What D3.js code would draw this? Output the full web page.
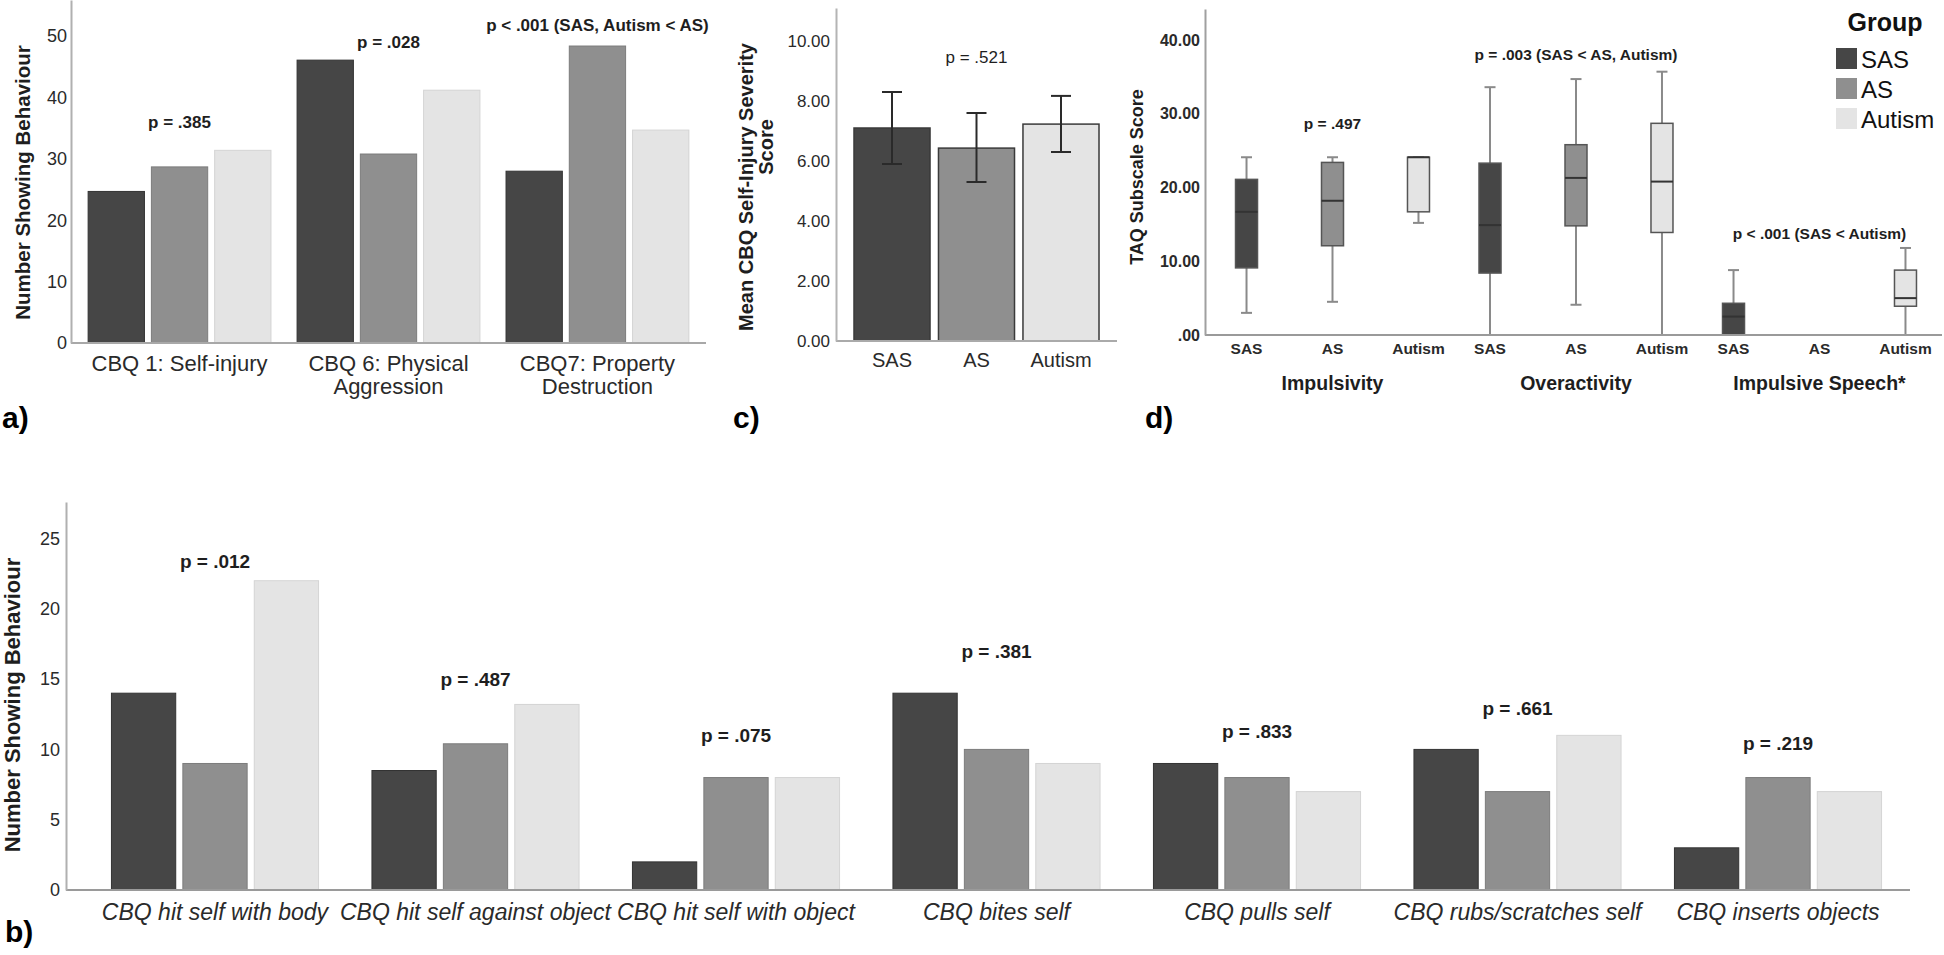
<!DOCTYPE html>
<html><head><meta charset="utf-8">
<script src="https://cdn.jsdelivr.net/npm/d3@7"></script>
<style>
html,body{margin:0;padding:0;background:#fff;}
svg{display:block;font-family:"Liberation Sans",Arial,Helvetica,sans-serif;}
</style>
</head><body>
<svg id="chart" width="1944" height="955"></svg>
<script>
// ---------------- DATA ----------------
const groups = ["SAS", "AS", "Autism"];

// Panel a) – CBQ categories
const catA = ["CBQ 1: Self-injury", "CBQ 6: Physical Aggression", "CBQ7: Property Destruction"];
const catALines = [["CBQ 1: Self-injury"], ["CBQ 6: Physical", "Aggression"], ["CBQ7: Property", "Destruction"]];
const aSAS = [24.7, 46.1, 28.0];
const aAS = [28.7, 30.8, 48.4];
const aAutism = [31.4, 41.2, 34.7];
const pTextA = ["p = .385", "p = .028", "p < .001 (SAS, Autism < AS)"];
const pLevelA = [36.0, 49.0, 51.8];
const ticksA = [0, 10, 20, 30, 40, 50];

// Panel b) – self-injury forms
const catB = ["CBQ hit self with body", "CBQ hit self against object", "CBQ hit self with object",
  "CBQ bites self", "CBQ pulls self", "CBQ rubs/scratches self", "CBQ inserts objects"];
const bSAS = [14, 8.5, 2, 14, 9, 10, 3];
const bAS = [9, 10.4, 8, 10, 8, 7, 8];
const bAutism = [22, 13.2, 8, 9, 7, 11, 7];
const pTextB = ["p = .012", "p = .487", "p = .075", "p = .381", "p = .833", "p = .661", "p = .219"];
const pLevelB = [23.4, 15.0, 11.0, 17.0, 11.25, 12.9, 10.4];
const ticksB = [0, 5, 10, 15, 20, 25];

// Panel c) – mean severity with error bars
const cMean = [7.1, 6.43, 7.23];
const cLow = [5.9, 5.3, 6.3];
const cHigh = [8.3, 7.6, 8.17];
const pTextC = "p = .521";
const pLevelC = 9.47;
const ticksC = [0, 2, 4, 6, 8, 10];

// Panel d) – TAQ boxplots [min, q1, median, q3, max]
const subscales = ["Impulsivity", "Overactivity", "Impulsive Speech*"];
const dSAS = [[3.0, 9.1, 16.7, 21.1, 24.1], [0, 8.4, 14.9, 23.3, 33.6], [0, 0, 2.5, 4.3, 8.8]];
const dAS = [[4.5, 12.1, 18.2, 23.4, 24.1], [4.1, 14.8, 21.3, 25.8, 34.7], null];
const dAutism = [[15.2, 16.7, 24.1, 24.1, 24.1], [0, 13.9, 20.8, 28.7, 35.7], [0, 3.9, 5.0, 8.8, 11.8]];
const pTextD = ["p = .497", "p = .003 (SAS < AS, Autism)", "p < .001 (SAS < Autism)"];
const pLevelD = [28.7, 38.0, 13.8];
const ticksD = [0, 10, 20, 30, 40];

// ---------------- STYLE ----------------
const fillC = d3.scaleOrdinal().domain(groups).range(["#464646", "#8f8f8f", "#e4e4e4"]);
const edgeC = d3.scaleOrdinal().domain(groups).range(["#333333", "#7c7c7c", "#d4d4d4"]);
const TXT = "#1e1e1e";
const svg = d3.select("#chart");
svg.append("rect").attr("width", 1944).attr("height", 955).attr("fill", "#fff");

function yAxis(g, scale, ticks, fmt, pad, size, weight, color) {
  const ax = d3.axisLeft(scale).tickValues(ticks).tickSize(0).tickSizeOuter(0).tickPadding(pad).tickFormat(fmt);
  g.call(ax);
  g.select(".domain").attr("stroke", color).attr("stroke-width", 2);
  g.selectAll("text").attr("font-size", size).attr("font-weight", weight).attr("fill", "#2a2a2a")
    .attr("font-family", '"Liberation Sans",Arial,sans-serif');
}

// ================= PANEL a =================
{
  const x = d3.scaleBand().domain(catA).range([71, 706]).paddingInner(0.125).paddingOuter(0.082);
  const xi = d3.scaleBand().domain(groups).range([0, x.bandwidth()]).paddingInner(0.11);
  const y = d3.scaleLinear().domain([0, 55.9]).range([343, 0]);
  const g = svg.append("g");
  const series = [aSAS, aAS, aAutism];
  const rows = catA.flatMap((c, i) => groups.map((gr, j) => ({ c, gr, v: series[j][i] })));
  g.selectAll("rect.bar").data(rows).join("rect")
    .attr("x", d => x(d.c) + xi(d.gr)).attr("width", xi.bandwidth())
    .attr("y", d => y(d.v)).attr("height", d => y(0) - y(d.v))
    .attr("fill", d => fillC(d.gr)).attr("stroke", d => edgeC(d.gr)).attr("stroke-width", 1);
  g.append("line").attr("x1", x.range()[0]).attr("x2", x.range()[1]).attr("y1", y(0)).attr("y2", y(0))
    .attr("stroke", "#a8a8a8").attr("stroke-width", 2);
  const ax = g.append("g").attr("transform", `translate(${x.range()[0]},0)`);
  yAxis(ax, y, ticksA, d3.format("d"), 4, 18, "normal", "#b0b0b0");
  g.append("text").attr("transform", `translate(23,${(y(0) + y(55.9)) / 2 + 11}) rotate(-90)`)
    .attr("text-anchor", "middle").attr("dy", "0.35em").attr("font-size", 20.5).attr("font-weight", "bold")
    .attr("fill", TXT).text("Number Showing Behaviour");
  catA.forEach((c, i) => {
    const t = g.append("text").attr("text-anchor", "middle").attr("font-size", 22).attr("fill", "#2a2a2a");
    catALines[i].forEach((ln, k) => t.append("tspan").attr("x", x(c) + x.bandwidth() / 2)
      .attr("y", y(0) + 20 + k * 23).attr("dy", "0.35em").text(ln));
    g.append("text").attr("x", x(c) + x.bandwidth() / 2).attr("y", y(pLevelA[i])).attr("dy", "0.35em")
      .attr("text-anchor", "middle").attr("font-size", 17).attr("font-weight", "bold").attr("fill", TXT)
      .text(pTextA[i]);
  });
  svg.append("text").attr("x", 2).attr("y", 428).attr("font-size", 30).attr("font-weight", "bold").attr("fill", "#000").text("a)");
}

// ================= PANEL c =================
{
  const x = d3.scaleBand().domain(groups).range([836, 1117]).paddingInner(0.1).paddingOuter(0.213);
  const y = d3.scaleLinear().domain([0, 11.1]).range([341, 8]);
  const g = svg.append("g");
  const rows = groups.map((gr, i) => ({ gr, m: cMean[i], lo: cLow[i], hi: cHigh[i] }));
  g.selectAll("rect.bar").data(rows).join("rect")
    .attr("x", d => x(d.gr)).attr("width", x.bandwidth())
    .attr("y", d => y(d.m)).attr("height", d => y(0) - y(d.m))
    .attr("fill", d => fillC(d.gr)).attr("stroke", "#3a3a3a").attr("stroke-width", 1.5);
  const cap = 10;
  const eb = g.selectAll("g.eb").data(rows).join("g").attr("stroke", "#2a2a2a").attr("stroke-width", 2);
  eb.append("line").attr("x1", d => x(d.gr) + x.bandwidth() / 2).attr("x2", d => x(d.gr) + x.bandwidth() / 2)
    .attr("y1", d => y(d.lo)).attr("y2", d => y(d.hi));
  eb.append("line").attr("x1", d => x(d.gr) + x.bandwidth() / 2 - cap).attr("x2", d => x(d.gr) + x.bandwidth() / 2 + cap)
    .attr("y1", d => y(d.hi)).attr("y2", d => y(d.hi));
  eb.append("line").attr("x1", d => x(d.gr) + x.bandwidth() / 2 - cap).attr("x2", d => x(d.gr) + x.bandwidth() / 2 + cap)
    .attr("y1", d => y(d.lo)).attr("y2", d => y(d.lo));
  g.append("line").attr("x1", x.range()[0]).attr("x2", x.range()[1]).attr("y1", y(0)).attr("y2", y(0))
    .attr("stroke", "#aaaaaa").attr("stroke-width", 2);
  const ax = g.append("g").attr("transform", `translate(${x.range()[0]},0)`);
  yAxis(ax, y, ticksC, d3.format(".2f"), 6, 17, "normal", "#b4b4b4");
  g.selectAll("text.xl").data(groups).join("text")
    .attr("x", d => x(d) + x.bandwidth() / 2).attr("y", y(0) + 19).attr("dy", "0.35em")
    .attr("text-anchor", "middle").attr("font-size", 20).attr("fill", "#2a2a2a").text(d => d);
  g.append("text").attr("x", x("AS") + x.bandwidth() / 2).attr("y", y(pLevelC)).attr("dy", "0.35em")
    .attr("text-anchor", "middle").attr("font-size", 17).attr("fill", TXT).text(pTextC);
  g.append("text").attr("transform", "translate(746,187) rotate(-90)").attr("text-anchor", "middle")
    .attr("dy", "0.35em").attr("font-size", 20).attr("font-weight", "bold").attr("fill", TXT)
    .text("Mean CBQ Self-Injury Severity");
  g.append("text").attr("transform", "translate(766,147) rotate(-90)").attr("text-anchor", "middle")
    .attr("dy", "0.35em").attr("font-size", 20).attr("font-weight", "bold").attr("fill", TXT).text("Score");
  svg.append("text").attr("x", 733).attr("y", 428).attr("font-size", 30).attr("font-weight", "bold").attr("fill", "#000").text("c)");
}

// ================= PANEL d =================
{
  const x = d3.scaleBand().domain(subscales).range([1210.75, 1941.25]);
  const xi = d3.scalePoint().domain(groups).range([0, x.bandwidth()]).padding(0.416);
  const y = d3.scaleLinear().domain([0, 44.2]).range([335, 9]);
  const g = svg.append("g");
  const series = [dSAS, dAS, dAutism];
  const rows = subscales.flatMap((s, i) => groups.map((gr, j) => ({ s, gr, b: series[j][i] }))).filter(d => d.b);
  const bw = 22, cw = 11;
  const bx = g.selectAll("g.box").data(rows).join("g")
    .attr("transform", d => `translate(${x(d.s) + xi(d.gr)},0)`);
  bx.append("line").attr("x1", 0).attr("x2", 0).attr("y1", d => y(d.b[0])).attr("y2", d => y(d.b[4]))
    .attr("stroke", "#8a8a8a").attr("stroke-width", 2);
  bx.append("line").attr("x1", -cw / 2).attr("x2", cw / 2).attr("y1", d => y(d.b[4])).attr("y2", d => y(d.b[4]))
    .attr("stroke", "#8a8a8a").attr("stroke-width", 2);
  bx.append("line").attr("x1", -cw / 2).attr("x2", cw / 2).attr("y1", d => y(d.b[0])).attr("y2", d => y(d.b[0]))
    .attr("stroke", "#8a8a8a").attr("stroke-width", 2);
  bx.append("rect").attr("x", -bw / 2).attr("width", bw).attr("y", d => y(d.b[3]))
    .attr("height", d => y(d.b[1]) - y(d.b[3])).attr("fill", d => fillC(d.gr))
    .attr("stroke", "#555").attr("stroke-width", 1.5);
  bx.append("line").attr("x1", -bw / 2).attr("x2", bw / 2).attr("y1", d => y(d.b[2])).attr("y2", d => y(d.b[2]))
    .attr("stroke", "#333").attr("stroke-width", 2);
  g.append("line").attr("x1", 1205).attr("x2", 1942).attr("y1", y(0)).attr("y2", y(0))
    .attr("stroke", "#9a9a9a").attr("stroke-width", 2);
  const ax = g.append("g").attr("transform", "translate(1205,0)");
  yAxis(ax, y, ticksD, v => v === 0 ? ".00" : d3.format(".2f")(v), 5, 16, "bold", "#a0a0a0");
  const tl = subscales.flatMap(s => groups.map(gr => ({ s, gr })));
  g.selectAll("text.xl").data(tl).join("text")
    .attr("x", d => x(d.s) + xi(d.gr)).attr("y", y(0) + 14).attr("dy", "0.35em")
    .attr("text-anchor", "middle").attr("font-size", 15.5).attr("font-weight", "bold").attr("fill", "#2a2a2a").text(d => d.gr);
  g.selectAll("text.sl").data(subscales).join("text")
    .attr("x", d => x(d) + x.bandwidth() / 2).attr("y", y(0) + 48).attr("dy", "0.35em")
    .attr("text-anchor", "middle").attr("font-size", 19.5).attr("font-weight", "bold").attr("fill", TXT).text(d => d);
  subscales.forEach((s, i) => {
    g.append("text").attr("x", x(s) + x.bandwidth() / 2).attr("y", y(pLevelD[i])).attr("dy", "0.35em")
      .attr("text-anchor", "middle").attr("font-size", 15.5).attr("font-weight", "bold").attr("fill", TXT).text(pTextD[i]);
  });
  g.append("text").attr("transform", "translate(1137,177) rotate(-90)").attr("text-anchor", "middle")
    .attr("dy", "0.35em").attr("font-size", 18).attr("font-weight", "bold").attr("fill", TXT).text("TAQ Subscale Score");
  // legend
  const lg = g.append("g");
  lg.append("text").attr("x", 1885).attr("y", 22).attr("dy", "0.35em").attr("text-anchor", "middle")
    .attr("font-size", 25).attr("font-weight", "bold").attr("fill", "#111").text("Group");
  const li = lg.selectAll("g.li").data(groups).join("g").attr("transform", (d, i) => `translate(1836,${48 + i * 30})`);
  li.append("rect").attr("width", 21).attr("height", 21).attr("fill", d => fillC(d));
  li.append("text").attr("x", 25).attr("y", 12).attr("dy", "0.35em").attr("font-size", 24).attr("fill", "#111").text(d => d);
  svg.append("text").attr("x", 1145).attr("y", 428).attr("font-size", 30).attr("font-weight", "bold").attr("fill", "#000").text("d)");
}

// ================= PANEL b =================
{
  const x = d3.scaleBand().domain(catB).range([84.75, 1908.25]).paddingInner(0.205).paddingOuter(0.1025);
  const xi = d3.scaleBand().domain(groups).range([0, x.bandwidth()]).paddingInner(0.1);
  const y = d3.scaleLinear().domain([0, 27.6]).range([890, 502]);
  const g = svg.append("g");
  const series = [bSAS, bAS, bAutism];
  const rows = catB.flatMap((c, i) => groups.map((gr, j) => ({ c, gr, v: series[j][i] })));
  g.selectAll("rect.bar").data(rows).join("rect")
    .attr("x", d => x(d.c) + xi(d.gr)).attr("width", xi.bandwidth())
    .attr("y", d => y(d.v)).attr("height", d => y(0) - y(d.v))
    .attr("fill", d => fillC(d.gr)).attr("stroke", d => edgeC(d.gr)).attr("stroke-width", 1);
  g.append("line").attr("x1", 66).attr("x2", 1910).attr("y1", y(0)).attr("y2", y(0))
    .attr("stroke", "#9a9a9a").attr("stroke-width", 2);
  const ax = g.append("g").attr("transform", "translate(66,0)");
  yAxis(ax, y, ticksB, d3.format("d"), 6, 18, "normal", "#b0b0b0");
  g.append("text").attr("transform", `translate(12,705) rotate(-90)`).attr("text-anchor", "middle")
    .attr("dy", "0.35em").attr("font-size", 22).attr("font-weight", "bold").attr("fill", TXT).text("Number Showing Behaviour");
  g.selectAll("text.xl").data(catB).join("text")
    .attr("x", d => x(d) + x.bandwidth() / 2).attr("y", y(0) + 22).attr("dy", "0.35em")
    .attr("text-anchor", "middle").attr("font-size", 23).attr("font-style", "italic").attr("fill", "#2a2a2a").text(d => d);
  catB.forEach((c, i) => {
    g.append("text").attr("x", x(c) + x.bandwidth() / 2).attr("y", y(pLevelB[i])).attr("dy", "0.35em")
      .attr("text-anchor", "middle").attr("font-size", 19).attr("font-weight", "bold").attr("fill", TXT).text(pTextB[i]);
  });
  svg.append("text").attr("x", 5).attr("y", 942).attr("font-size", 30).attr("font-weight", "bold").attr("fill", "#000").text("b)");
}
</script>
</body></html>
